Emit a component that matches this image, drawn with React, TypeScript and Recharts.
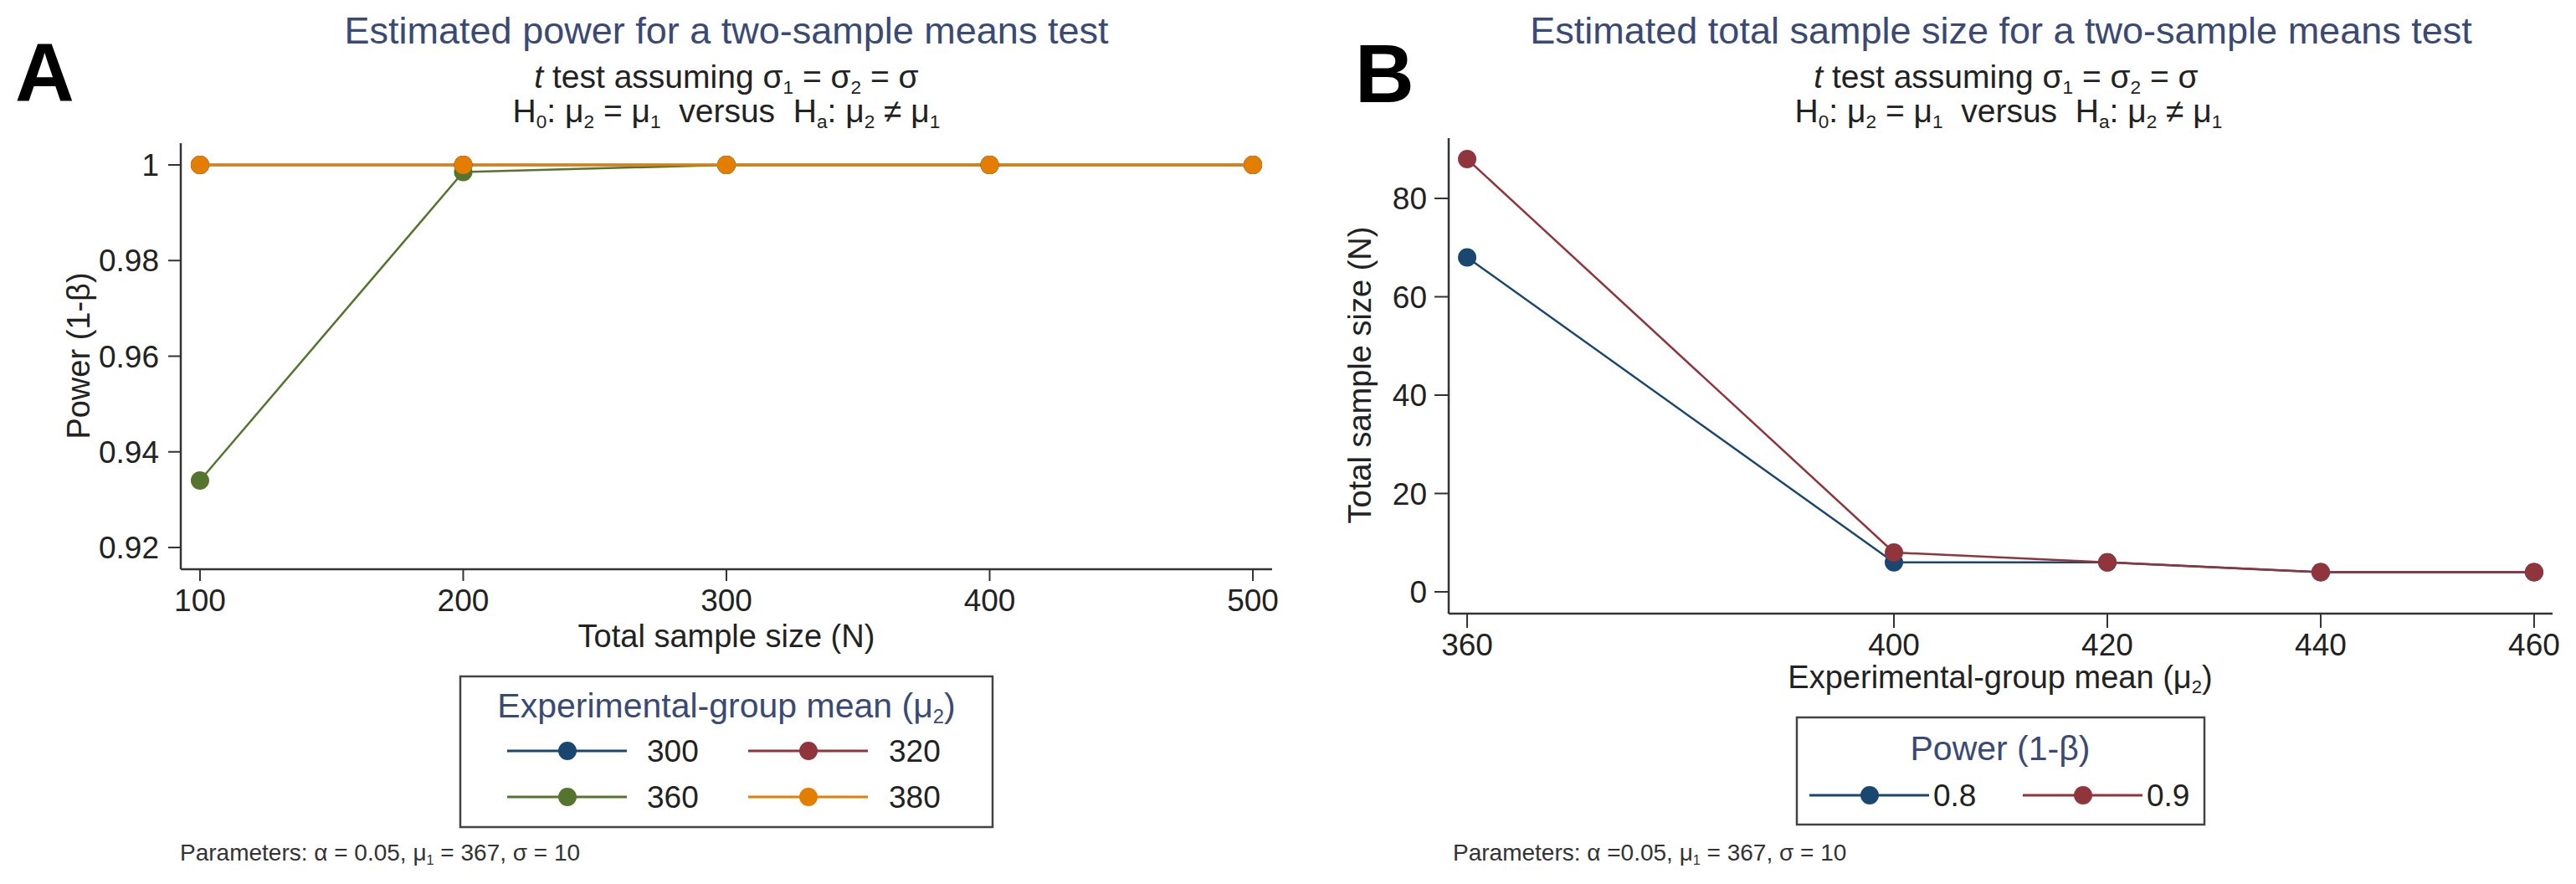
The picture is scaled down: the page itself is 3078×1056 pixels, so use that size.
import React from 'react';
import { LineChart, Line, XAxis, YAxis } from 'recharts';

// Panel A: power vs total sample size, one series per experimental-group mean
const sampleSizes = [100, 200, 300, 400, 500];
const power300 = [1, 1, 1, 1, 1];
const power320 = [1, 1, 1, 1, 1];
const power360 = [0.934, 0.9985, 1, 1, 1];
const power380 = [1, 1, 1, 1, 1];
const powerTicks = [0.92, 0.94, 0.96, 0.98, 1];
const sizeTicksA = [100, 200, 300, 400, 500];

// Panel B: total sample size vs experimental-group mean, one series per power
const groupMeans = [360, 400, 420, 440, 460];
const nPower80 = [68, 6, 6, 4, 4];
const nPower90 = [88, 8, 6, 4, 4];
const nTicks = [0, 20, 40, 60, 80];
const meanTicks = [360, 400, 420, 440, 460];

const FONT = '"Liberation Sans", Arial, sans-serif';
const NAVY = '#1a476f';
const MAROON = '#90353b';
const GREEN = '#55752f';
const ORANGE = '#e37e00';
const TITLE = '#3a4a74';
const AXIS = '#333';
const TEXT = '#222';

const dataA = sampleSizes.map((n, i) => ({
  n,
  p300: power300[i],
  p320: power320[i],
  p360: power360[i],
  p380: power380[i],
}));

const dataB = groupMeans.map((m, i) => ({ m, n80: nPower80[i], n90: nPower90[i] }));

const fmtPower = (v: number) => String(+v.toFixed(2));

const tickStyle = { fill: TEXT, fontSize: 37, fontFamily: FONT };

// text pieces: n = normal, s = subscript, i = italic
type Part = [string, 'n' | 's' | 'i'];
const rich = (parts: Part[], size: number) => {
  let down = false;
  return parts.map(([t, k], i) => {
    const sub = k === 's';
    let dy: number | undefined;
    if (sub && !down) { dy = size * 0.17; down = true; }
    else if (!sub && down) { dy = -size * 0.17; down = false; }
    return (
      <tspan key={i} dy={dy} fontSize={sub ? size * 0.58 : undefined} fontStyle={k === 'i' ? 'italic' : undefined}>
        {t}
      </tspan>
    );
  });
};

const hypParts: Part[] = [
  ['H', 'n'], ['0', 's'], [': μ', 'n'], ['2', 's'], [' = μ', 'n'], ['1', 's'],
  ['  versus  H', 'n'], ['a', 's'], [': μ', 'n'], ['2', 's'], [' ≠ μ', 'n'], ['1', 's'],
];
const assumeParts: Part[] = [
  ['t', 'i'], [' test assuming σ', 'n'], ['1', 's'], [' = σ', 'n'], ['2', 's'], [' = σ', 'n'],
];
const meanParts: Part[] = [['Experimental-group mean (μ', 'n'], ['2', 's'], [')', 'n']];
const notePartsA: Part[] = [['Parameters: α = 0.05, μ', 'n'], ['1', 's'], [' = 367, σ = 10', 'n']];
const notePartsB: Part[] = [['Parameters: α =0.05, μ', 'n'], ['1', 's'], [' = 367, σ = 10', 'n']];

const LegendItem = ({ x, y, color }: { x: number; y: number; color: string }) => (
  <g>
    <line x1={x} x2={x + 143} y1={y} y2={y} stroke={color} strokeWidth={3} />
    <circle cx={x + 72} cy={y} r={11} fill={color} />
  </g>
);

const pre = { whiteSpace: 'pre' as const };
const SUB_SIZE = 39;

const Overlay = () => (
  <svg width={3078} height={1056} style={{ position: 'absolute', left: 0, top: 0, pointerEvents: 'none' }} fontFamily={FONT}>
    {/* panel letters */}
    <text x={18} y={120} fontSize={98} fontWeight="bold" fill="#000">A</text>
    <text x={1619} y={122} fontSize={98} fontWeight="bold" fill="#000">B</text>

    {/* panel A titles */}
    <text x={868} y={52} fontSize={45} fill={TITLE} textAnchor="middle">Estimated power for a two-sample means test</text>
    <text x={868} y={105} fontSize={SUB_SIZE} fill={TEXT} textAnchor="middle" style={pre}>{rich(assumeParts, SUB_SIZE)}</text>
    <text x={868} y={146} fontSize={SUB_SIZE} fill={TEXT} textAnchor="middle" style={pre}>{rich(hypParts, SUB_SIZE)}</text>

    {/* panel B titles */}
    <text x={2391} y={52} fontSize={45} fill={TITLE} textAnchor="middle">Estimated total sample size for a two-sample means test</text>
    <text x={2397} y={105} fontSize={SUB_SIZE} fill={TEXT} textAnchor="middle" style={pre}>{rich(assumeParts, SUB_SIZE)}</text>
    <text x={2400} y={146} fontSize={SUB_SIZE} fill={TEXT} textAnchor="middle" style={pre}>{rich(hypParts, SUB_SIZE)}</text>

    {/* axis titles A */}
    <text transform="translate(94,425) rotate(-90)" fontSize={38} fill={TEXT} textAnchor="middle" dominantBaseline="central">Power (1-β)</text>
    <text x={868} y={773} fontSize={38} fill={TEXT} textAnchor="middle">Total sample size (N)</text>

    {/* axis titles B */}
    <text transform="translate(1625,448) rotate(-90)" fontSize={38} fill={TEXT} textAnchor="middle" dominantBaseline="central">Total sample size (N)</text>
    <text x={2390} y={822} fontSize={38} fill={TEXT} textAnchor="middle" style={pre}>{rich(meanParts, 38)}</text>

    {/* legend A */}
    <rect x={550} y={808} width={636} height={180} fill="#fff" stroke="#444" strokeWidth={2.5} />
    <text x={868} y={857} fontSize={41} fill={TITLE} textAnchor="middle" style={pre}>{rich(meanParts, 41)}</text>
    <LegendItem x={606} y={897} color={NAVY} />
    <text x={773} y={910} fontSize={37} fill={TEXT}>300</text>
    <LegendItem x={894} y={897} color={MAROON} />
    <text x={1062} y={910} fontSize={37} fill={TEXT}>320</text>
    <LegendItem x={606} y={952} color={GREEN} />
    <text x={773} y={965} fontSize={37} fill={TEXT}>360</text>
    <LegendItem x={894} y={952} color={ORANGE} />
    <text x={1062} y={965} fontSize={37} fill={TEXT}>380</text>

    {/* legend B */}
    <rect x={2147} y={857} width={487} height={128} fill="#fff" stroke="#444" strokeWidth={2.5} />
    <text x={2390} y={908} fontSize={41} fill={TITLE} textAnchor="middle">Power (1-β)</text>
    <LegendItem x={2162} y={950} color={NAVY} />
    <text x={2310} y={963} fontSize={37} fill={TEXT}>0.8</text>
    <LegendItem x={2417} y={950} color={MAROON} />
    <text x={2565} y={963} fontSize={37} fill={TEXT}>0.9</text>

    {/* notes */}
    <text x={215} y={1028} fontSize={28} fill="#333" style={pre}>{rich(notePartsA, 28)}</text>
    <text x={1736} y={1028} fontSize={28} fill="#333" style={pre}>{rich(notePartsB, 28)}</text>
  </svg>
);

const dot = (c: string) => ({ r: 11, fill: c, stroke: c, strokeWidth: 0 });

export default function App() {
  return (
    <div style={{ position: 'relative', width: 3078, height: 1056, background: '#fff', fontFamily: FONT }}>
      <style>{'body{margin:0}'}</style>
      <div style={{ position: 'absolute', left: 0, top: 0 }}>
        <LineChart width={1540} height={1056} data={dataA} margin={{ top: 171, right: 20, bottom: 316, left: 0 }}>
          <XAxis
            dataKey="n"
            type="number"
            domain={[92.7, 507.3]}
            ticks={sizeTicksA}
            allowDataOverflow
            height={60}
            tickSize={14}
            tickMargin={10}
            tick={tickStyle}
            axisLine={{ stroke: AXIS, strokeWidth: 2.5 }}
            tickLine={{ stroke: AXIS, strokeWidth: 2 }}
          />
          <YAxis
            type="number"
            domain={[0.91545, 1.00455]}
            ticks={powerTicks}
            allowDataOverflow
            width={216}
            tickSize={15}
            tickMargin={11}
            tick={tickStyle}
            tickFormatter={fmtPower}
            axisLine={{ stroke: AXIS, strokeWidth: 2.5 }}
            tickLine={{ stroke: AXIS, strokeWidth: 2 }}
          />
          <Line type="linear" dataKey="p300" stroke={NAVY} strokeWidth={2.5} dot={dot(NAVY)} isAnimationActive={false} />
          <Line type="linear" dataKey="p320" stroke={MAROON} strokeWidth={2.5} dot={dot(MAROON)} isAnimationActive={false} />
          <Line type="linear" dataKey="p360" stroke={GREEN} strokeWidth={2.5} dot={dot(GREEN)} isAnimationActive={false} />
          <Line type="linear" dataKey="p380" stroke={ORANGE} strokeWidth={3} dot={dot(ORANGE)} isAnimationActive={false} />
        </LineChart>
      </div>
      <div style={{ position: 'absolute', left: 1560, top: 0 }}>
        <LineChart width={1518} height={1056} data={dataB} margin={{ top: 165, right: 28, bottom: 263, left: 0 }}>
          <XAxis
            dataKey="m"
            type="number"
            domain={[358.27, 461.73]}
            ticks={meanTicks}
            allowDataOverflow
            height={60}
            tickSize={17}
            tickMargin={7}
            tick={tickStyle}
            axisLine={{ stroke: AXIS, strokeWidth: 2.5 }}
            tickLine={{ stroke: AXIS, strokeWidth: 2 }}
          />
          <YAxis
            type="number"
            domain={[-4.43, 92.26]}
            ticks={nTicks}
            allowDataOverflow
            width={171}
            tickSize={17}
            tickMargin={9}
            tick={tickStyle}
            axisLine={{ stroke: AXIS, strokeWidth: 2.5 }}
            tickLine={{ stroke: AXIS, strokeWidth: 2 }}
          />
          <Line type="linear" dataKey="n80" stroke={NAVY} strokeWidth={2.5} dot={dot(NAVY)} isAnimationActive={false} />
          <Line type="linear" dataKey="n90" stroke={MAROON} strokeWidth={2.5} dot={dot(MAROON)} isAnimationActive={false} />
        </LineChart>
      </div>
      <Overlay />
    </div>
  );
}
